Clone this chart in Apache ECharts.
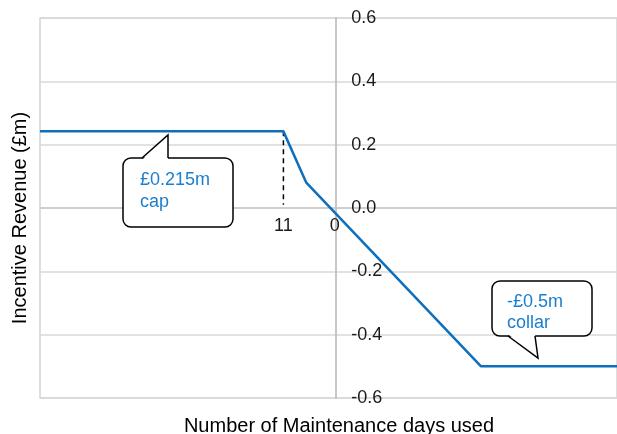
<!DOCTYPE html>
<html>
<head>
<meta charset="utf-8">
<script src="https://cdn.jsdelivr.net/npm/echarts@6/dist/echarts.min.js"></script>
<style>
    html, body { margin: 0; padding: 0; background: #fff; }
    #chart { width: 617px; height: 434px; }
</style>
</head>
<body>
<div id="chart"></div>
<script>
// data (x = days relative to the 0 line)
const days = [-63.1, -11, -6.1, 31.3, 60.4];
const revenue = [0.242, 0.242, 0.08, -0.5, -0.5];
const capDay = -11;
const xTickValues = [-11, 0];
const yTicks = [-0.6, -0.4, -0.2, 0, 0.2, 0.4, 0.6];

const FONT = '"Liberation Sans", Arial, sans-serif';
const BLUE_LINE = '#0e6fbd';
const BLUE_TEXT = '#1a7fcf';

const GRID = { left: 40, right: -1, top: 18, bottom: 36 };
const W = 617, H = 434;
const gridW = W - GRID.left - GRID.right;
const gridH = H - GRID.top - GRID.bottom;

const xMin = days[0], xMax = days[days.length - 1];
const yMin = yTicks[0], yMax = yTicks[yTicks.length - 1];
// shift the axes so they cross at 0,0
const yAxisOffset = -gridW * (0 - xMin) / (xMax - xMin);
const xAxisOffset = -gridH * (0 - yMin) / (yMax - yMin);

const chart = echarts.init(document.getElementById('chart'));

const option = {
    animation: false,
    backgroundColor: '#fff',
    grid: {
        left: GRID.left, right: GRID.right, top: GRID.top, bottom: GRID.bottom,
        show: true,
        borderColor: '#d4d4d4',
        borderWidth: 1.5
    },
    xAxis: {
        type: 'value',
        min: xMin,
        max: xMax,
        position: 'bottom',
        offset: xAxisOffset,
        axisLine: { onZero: false, lineStyle: { color: '#c8c8c8', width: 1.5 } },
        axisTick: { show: false },
        splitLine: { show: false },
        axisLabel: {
            customValues: xTickValues,
            formatter: v => String(Math.abs(Math.round(v))),
            color: '#1a1a1a',
            fontFamily: FONT,
            fontSize: 18,
            margin: 9
        }
    },
    yAxis: {
        type: 'value',
        min: yMin,
        max: yMax,
        interval: 0.2,
        position: 'left',
        offset: yAxisOffset,
        axisLine: { show: true, onZero: false, lineStyle: { color: '#b4b4b4', width: 1.5 } },
        axisTick: { show: false },
        splitLine: { lineStyle: { color: '#d9d9d9', width: 1.5 } },
        axisLabel: {
            inside: true,
            margin: 16,
            formatter: v => v.toFixed(1),
            color: '#1a1a1a',
            fontFamily: FONT,
            fontSize: 18
        }
    },
    series: [
        {
            name: 'Incentive revenue',
            type: 'line',
            data: days.map((d, i) => [d, revenue[i]]),
            symbol: 'none',
            lineStyle: { color: BLUE_LINE, width: 2.5 },
            z: 3
        },
        {
            // dashed drop line at the cap point
            name: 'cap drop',
            type: 'line',
            data: [[capDay, revenue[1]], [capDay, 0.01]],
            symbol: 'none',
            lineStyle: { color: '#000', width: 1.5, type: [5, 4] },
            z: 2
        }
    ],
    graphic: [
        // axis titles
        {
            type: 'text',
            x: 20, y: 218,
            rotation: Math.PI / 2,
            style: {
                text: 'Incentive Revenue (£m)',
                font: '20px ' + FONT,
                fill: '#000',
                align: 'center',
                verticalAlign: 'middle'
            }
        },
        {
            type: 'text',
            x: 339, y: 426,
            style: {
                text: 'Number of Maintenance days used',
                font: '20px ' + FONT,
                fill: '#000',
                align: 'center',
                verticalAlign: 'middle'
            }
        },
        // cap callout
        {
            type: 'rect',
            shape: { x: 123, y: 158, width: 110, height: 69, r: 8 },
            style: { fill: '#fff', stroke: '#000', lineWidth: 1.5 },
            z: 10
        },
        {
            type: 'polygon',
            shape: { points: [[142.5, 159.5], [168, 135], [168, 159.5]] },
            style: { fill: '#fff', stroke: null },
            z: 11
        },
        {
            type: 'polyline',
            shape: { points: [[142, 158], [168, 135], [168, 158]] },
            style: { stroke: '#000', lineWidth: 1.5, fill: null },
            z: 12
        },
        {
            type: 'text',
            x: 140, y: 169,
            style: {
                text: '£0.215m\ncap',
                font: '18px ' + FONT,
                lineHeight: 22,
                fill: BLUE_TEXT,
                align: 'left',
                verticalAlign: 'top'
            },
            z: 13
        },
        // collar callout
        {
            type: 'rect',
            shape: { x: 492, y: 281, width: 100, height: 55, r: 8 },
            style: { fill: '#fff', stroke: '#000', lineWidth: 1.5 },
            z: 10
        },
        {
            type: 'polygon',
            shape: { points: [[508.5, 334.5], [538, 358], [535, 334.5]] },
            style: { fill: '#fff', stroke: null },
            z: 11
        },
        {
            type: 'polyline',
            shape: { points: [[508, 336], [538, 358], [535, 336]] },
            style: { stroke: '#000', lineWidth: 1.5, fill: null },
            z: 12
        },
        {
            type: 'text',
            x: 507, y: 292,
            style: {
                text: '-£0.5m\ncollar',
                font: '18px ' + FONT,
                lineHeight: 21,
                fill: BLUE_TEXT,
                align: 'left',
                verticalAlign: 'top'
            },
            z: 13
        }
    ]
};

chart.setOption(option);
</script>
</body>
</html>
